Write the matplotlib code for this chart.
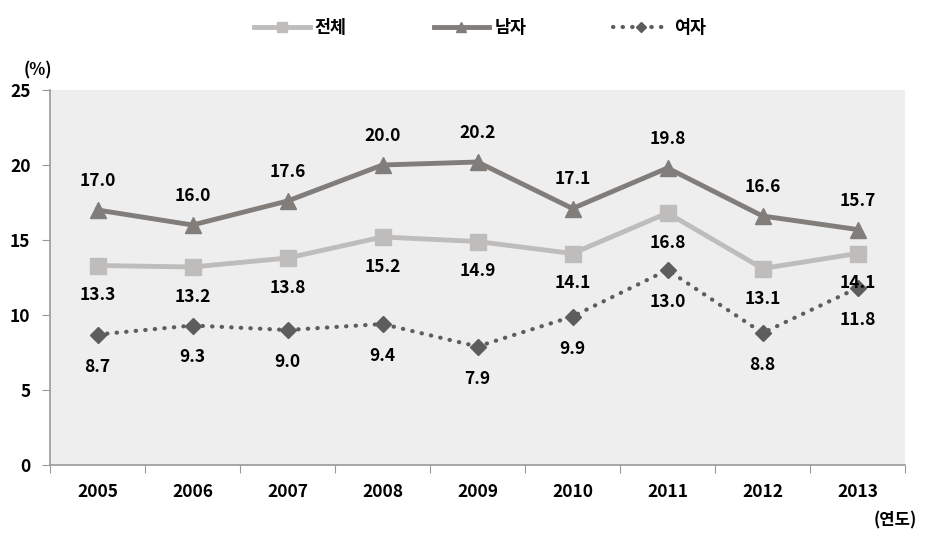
import matplotlib.pyplot as plt
import matplotlib as mpl

mpl.rcParams['font.family'] = ['Noto Sans CJK KR', 'DejaVu Sans']
mpl.rcParams['font.weight'] = 'bold'

years = ['2005', '2006', '2007', '2008', '2009', '2010', '2011', '2012', '2013']
total = [13.3, 13.2, 13.8, 15.2, 14.9, 14.1, 16.8, 13.1, 14.1]
male = [17.0, 16.0, 17.6, 20.0, 20.2, 17.1, 19.8, 16.6, 15.7]
female = [8.7, 9.3, 9.0, 9.4, 7.9, 9.9, 13.0, 8.8, 11.8]
labels = ['전체', '남자', '여자']

c_total = '#BEBDBB'
c_male = '#807D7A'
c_female = '#5F5D5B'

fig = plt.figure(figsize=(9.27, 5.42), dpi=100)
ax = fig.add_axes([50 / 927, 77 / 542, 855 / 927, 375 / 542])
ax.set_facecolor('#EEEEEE')

x = list(range(len(years)))
ax.plot(x, total, color=c_total, lw=3.5, marker='s', ms=11, label=labels[0])
ax.plot(x, male, color=c_male, lw=3.5, marker='^', ms=11, label=labels[1])
ax.plot(x, female, color=c_female, lw=3, ls=(0, (0.1, 2.2)), dash_capstyle='round',
        marker='D', ms=8, label=labels[2])

# 数据标签
for i in x:
    ax.annotate(f'{total[i]:.1f}', (i, total[i]), xytext=(0, -30), textcoords='offset pixels',
                ha='center', va='center', fontsize=12.5, fontweight='bold')
    ax.annotate(f'{male[i]:.1f}', (i, male[i]), xytext=(0, 29), textcoords='offset pixels',
                ha='center', va='center', fontsize=12.5, fontweight='bold')
    ax.annotate(f'{female[i]:.1f}', (i, female[i]), xytext=(0, -32), textcoords='offset pixels',
                ha='center', va='center', fontsize=12.5, fontweight='bold')

ax.set_xlim(-0.5, len(years) - 0.5)
ax.set_ylim(0, 25)
ax.set_yticks([0, 5, 10, 15, 20, 25])
ax.set_xticks([i - 0.5 for i in range(len(years) + 1)])
ax.set_xticklabels([])
ax.set_xticks(x, minor=True)
ax.set_xticklabels(years, minor=True)
ax.tick_params(axis='x', which='minor', length=0, pad=13, labelsize=12.5)
ax.tick_params(axis='x', which='major', length=6, color='#999999', direction='out')
ax.tick_params(axis='y', length=6, color='#999999', pad=8, labelsize=12.5)
for lab in ax.get_xticklabels(minor=True) + ax.get_yticklabels():
    lab.set_fontweight('bold')

for s in ['top', 'right']:
    ax.spines[s].set_visible(False)
for s in ['left', 'bottom']:
    ax.spines[s].set_color('#999999')
    ax.spines[s].set_linewidth(1.2)

fig.text(38 / 927, 1 - 70 / 542, '(%)', ha='center', va='center', fontsize=12, fontweight='bold')
fig.text(895 / 927, 1 - 520 / 542, '(연도)', ha='center', va='center', fontsize=12, fontweight='bold')

fig.legend(loc='center', bbox_to_anchor=(480 / 927, 1 - 28 / 542), ncol=3, frameon=False,
           columnspacing=5, handlelength=3.2, handletextpad=0.3, markerscale=0.7,
           prop={'weight': 'bold', 'size': 12.5})

fig.savefig('out.png', dpi=100)
